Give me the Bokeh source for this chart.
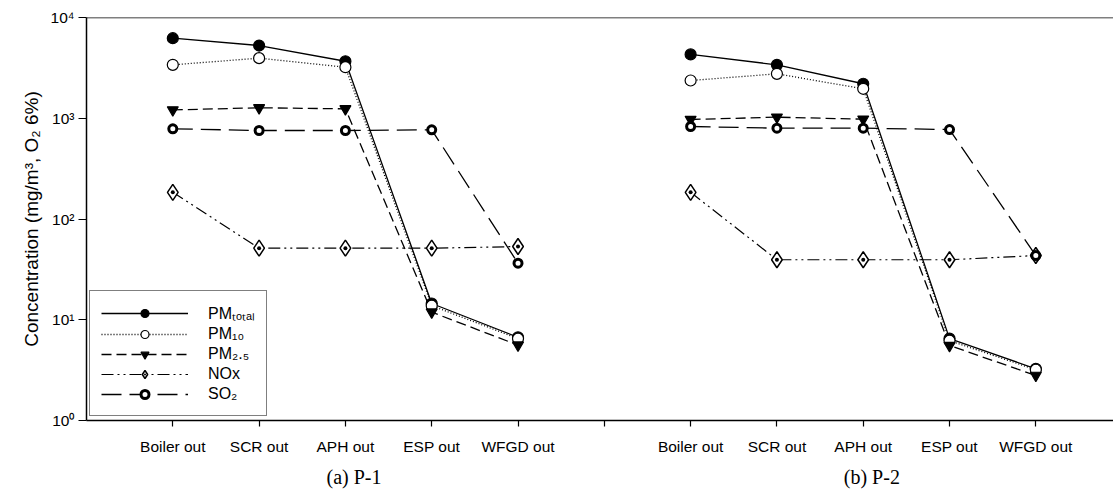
from bokeh.plotting import figure
from bokeh.models import Range1d, FixedTicker, LinearAxis, Legend, LegendItem, Span
from bokeh.embed import file_html
from bokeh.resources import INLINE

# ---------------- data ----------------
stations = ["Boiler out", "SCR out", "APH out", "ESP out", "WFGD out"]
panel_labels = ["(a) P-1", "(b) P-2"]

pm_total_p1 = [6230, 5270, 3680, 14.5, 6.7]
pm10_p1 = [3390, 3950, 3210, 13.8, 6.5]
pm25_p1 = [1210, 1270, 1240, 11.9, 5.6]
nox_p1 = [184, 51.3, 51.3, 51.3, 53.3]
so2_p1 = [785, 756, 756, 768, 36.4]

pm_total_p2 = [4300, 3390, 2200, 6.5, 3.26]
pm10_p2 = [2370, 2760, 1960, 6.2, 3.19]
pm25_p2 = [972, 1025, 979, 5.55, 2.8]
nox_p2 = [184, 39.4, 39.4, 39.4, 43.4]
so2_p2 = [828, 797, 797, 773, 43.4]

series_names = ["PMₜₒₜₐₗ", "PM₁₀", "PM₂.₅", "NOx", "SO₂"]
y_ticks = [1, 10, 100, 1000, 10000]
y_tick_labels = ["10⁰", "10¹", "10²", "10³", "10⁴"]

# x positions: panel 1 at 1..5, gap at 6, panel 2 at 7..11
x_p1 = [i + 1 for i in range(len(stations))]
x_p2 = [i + 2 + len(stations) for i in range(len(stations))]

p = figure(width=1113, height=496, y_axis_type="log",
           x_range=Range1d(0, 11.9), y_range=Range1d(1, 10000),
           output_backend="svg", toolbar_location=None,
           min_border_left=86, min_border_right=0, min_border_top=17,
           min_border_bottom=76)
p.outline_line_color = None
p.xgrid.visible = False
p.ygrid.visible = False
p.background_fill_color = "white"
p.border_fill_color = "white"

styles = [
    dict(dash="solid", marker="circle", size=11, fill="black", lw=1.3, mlw=1.2),
    dict(dash="1 2", marker="circle", size=11, fill="white", lw=1.3, mlw=1.2),
    dict(dash="10 5", marker="inverted_triangle", size=11, fill="black", lw=1.3, mlw=1.2),
    dict(dash="12 4 2 4 2 4", marker="diamond_dot", size=16, fill="white", lw=1.2, mlw=1.5),
    dict(dash="20 8", marker="circle", size=8, fill="white", lw=1.3, mlw=3),
]
p1_series = [pm_total_p1, pm10_p1, pm25_p1, nox_p1, so2_p1]
p2_series = [pm_total_p2, pm10_p2, pm25_p2, nox_p2, so2_p2]

line_r = []
for st, v1, v2 in zip(styles, p1_series, p2_series):
    r1 = p.line(x_p1, v1, line_color="black", line_width=st["lw"], line_dash=st["dash"])
    p.line(x_p2, v2, line_color="black", line_width=st["lw"], line_dash=st["dash"])
    line_r.append(r1)

mark_r = []
for st, v1, v2 in zip(styles, p1_series, p2_series):
    r1 = p.scatter(x_p1, v1, marker=st["marker"], size=st["size"], fill_color=st["fill"],
                   line_color="black", line_width=st["mlw"])
    p.scatter(x_p2, v2, marker=st["marker"], size=st["size"], fill_color=st["fill"],
              line_color="black", line_width=st["mlw"])
    mark_r.append(r1)

# axes
xa = p.xaxis[0]
xa.ticker = FixedTicker(ticks=list(range(1, 12)))
xa.major_label_overrides = {**{x: s for x, s in zip(x_p1, stations)},
                            **{x: s for x, s in zip(x_p2, stations)},
                            6: ""}
xa.minor_tick_line_color = None
xa.major_tick_in = 0
xa.major_tick_out = 6
xa.axis_line_width = 1.5
xa.major_tick_line_width = 1.2
xa.major_label_text_font = "Liberation Sans"
xa.major_label_text_font_size = "15.5px"
xa.major_label_text_color = "black"
xa.major_label_standoff = 11

panel_axis = LinearAxis(ticker=FixedTicker(ticks=[3.1, 9.1]),
                        major_label_overrides={3.1: panel_labels[0], 9.1: panel_labels[1]},
                        axis_line_color=None, major_tick_line_color=None,
                        minor_tick_line_color=None,
                        major_label_text_font="Liberation Serif",
                        major_label_text_font_size="20px",
                        major_label_text_color="black",
                        major_label_standoff=2)
p.add_layout(panel_axis, "below")

ya = p.yaxis[0]
ya.ticker = FixedTicker(ticks=y_ticks)
ya.major_label_overrides = {t: s for t, s in zip(y_ticks, y_tick_labels)}
ya.minor_tick_line_color = None
ya.major_tick_in = 0
ya.major_tick_out = 8
ya.axis_line_width = 1.5
ya.major_tick_line_width = 1.2
ya.major_label_text_font = "Liberation Sans"
ya.major_label_text_font_size = "15.5px"
ya.major_label_text_color = "black"
ya.major_label_standoff = 4
ya.axis_label = "Concentration (mg/m³, O₂ 6%)"
ya.axis_label_text_font = "Liberation Sans"
ya.axis_label_text_font_size = "19px"
ya.axis_label_text_font_style = "normal"
ya.axis_label_text_color = "black"
ya.axis_label_standoff = 6

p.add_layout(Span(location=10000, dimension="width", line_color="black", line_width=1.5))

items = [LegendItem(label=n, renderers=[lr, mr]) for n, lr, mr in zip(series_names, line_r, mark_r)]
legend = Legend(items=items, location=(3, 4), glyph_width=87, glyph_height=20,
                label_height=20, label_standoff=20, spacing=0, padding=11,
                label_text_font="Liberation Sans", label_text_font_size="16px",
                label_text_color="black",
                border_line_color="black", border_line_width=1.2,
                background_fill_color="white", background_fill_alpha=1.0)
p.add_layout(legend, "center")

open("out.html", "w").write(file_html(p, INLINE))
